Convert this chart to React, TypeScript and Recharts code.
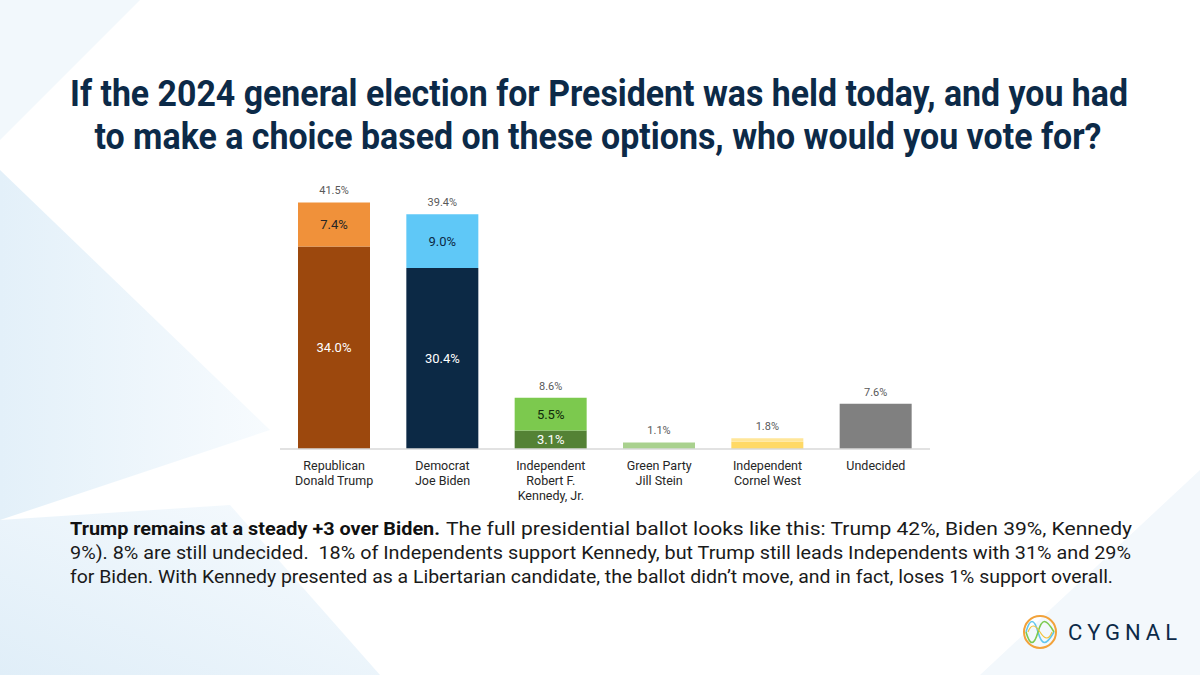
import { BarChart, Bar, XAxis, YAxis, Cell, LabelList } from "recharts"

// ballot results (percent)
const categories = [
    "Republican\nDonald Trump",
    "Democrat\nJoe Biden",
    "Independent\nRobert F.\nKennedy, Jr.",
    "Green Party\nJill Stein",
    "Independent\nCornel West",
    "Undecided",
]
const baseValues = [34.0, 30.4, 3.1, 1.1, 1.2, 7.6]
const topValues = [7.4, 9.0, 5.5, 0, 0.6, 0]
const totalLabels = ["41.5%", "39.4%", "8.6%", "1.1%", "1.8%", "7.6%"]
const baseLabels = ["34.0%", "30.4%", "3.1%", "", "", ""]
const topLabels = ["7.4%", "9.0%", "5.5%", "", "", ""]

const baseColors = ["#9c480d", "#0c2945", "#548235", "#a9d18e", "#ffd966", "#808080"]
const topColors = ["#f0913a", "#5fc8f7", "#7cc94e", "#a9d18e", "#ffe699", "#808080"]
const baseTextColors = ["#ffffff", "#ffffff", "#ffffff"]
const topTextColors = ["#262626", "#0c2945", "#0f2a0a"]

const chartData = categories.map((name, i) => ({
    name,
    base: baseValues[i],
    top: topValues[i],
}))

const NAVY = "#0c2a48"
const FONT = "Roboto, 'Noto Sans', sans-serif"
const NARROW = "'Liberation Sans Narrow', Roboto, sans-serif"

const CategoryTick = (props: any) => {
    const {x, y, payload} = props
    const lines = String(payload.value).split("\n")
    return (
        <text x={x} y={y} textAnchor="middle" fontSize={12.5} fill="#262626" fontFamily={FONT}>
            {lines.map((line, i) => (
                <tspan key={i} x={x} dy={i === 0 ? 13 : 15}>{line}</tspan>
            ))}
        </text>
    )
}

const innerLabel = (labels: string[], colors: string[]) => (props: any) => {
    const {x, y, width, height, index} = props
    const text = labels[index]
    if (!text) return null
    return (
        <text x={x + width / 2} y={y + height / 2} dy={4.5} textAnchor="middle"
              fontSize={13} fill={colors[index]} fontFamily={FONT}>
            {text}
        </text>
    )
}

// total sits above the whole stack: lift by the top segment, using the base bar's own px-per-unit
const TotalLabel = (props: any) => {
    const {x, y, width, height, index} = props
    const perUnit = height / baseValues[index]
    const stackTop = y - topValues[index] * perUnit
    return (
        <text x={x + width / 2} y={stackTop - 8} textAnchor="middle" fontSize={11} fill="#595959" fontFamily={FONT}>
            {totalLabels[index]}
        </text>
    )
}

const Logo = () => (
    <g>
        <circle cx={1040} cy={632} r={16} fill="none" stroke="#f2a23a" strokeWidth={2} />
        <path d="M1026 632 C1030 618, 1034 618, 1038 632 S1046 646, 1054 632" fill="none" stroke="#62c6ee" strokeWidth={1.6} />
        <path d="M1026 632 C1030 646, 1034 646, 1038 632 S1046 618, 1054 632" fill="none" stroke="#7cc94e" strokeWidth={1.6} />
        <path d="M1028 632 C1031 624, 1035 624, 1040 632 S1049 640, 1052 632" fill="none" stroke="#f2c23a" strokeWidth={1.2} />
        <text x={1068} y={640} fontSize={22} fill={NAVY} fontFamily={FONT} textLength={109} lengthAdjust="spacing">CYGNAL</text>
    </g>
)

const App = () => {
    return (
        <div style={{position: "absolute", left: 0, top: 0, width: 1200, height: 675, background: "#ffffff", overflow: "hidden"}}>
            <svg width={1200} height={675} style={{position: "absolute", left: 0, top: 0}}>
                <defs>
                    <linearGradient id="bgLeft" x1="0" y1="0" x2="1" y2="0">
                        <stop offset="0%" stopColor="#e3f0f9" />
                        <stop offset="100%" stopColor="#f7fbfe" />
                    </linearGradient>
                    <linearGradient id="bgBottom" x1="0" y1="1" x2="1" y2="0">
                        <stop offset="0%" stopColor="#e0eef8" />
                        <stop offset="100%" stopColor="#f7fbfe" />
                    </linearGradient>
                </defs>
                <polygon points="0,0 140,0 0,140" fill="#f2f8fc" />
                <polygon points="0,170 270,430 0,520" fill="url(#bgLeft)" />
                <polygon points="0,520 230,505 380,675 0,675" fill="url(#bgBottom)" />
                <polygon points="980,675 1200,470 1200,675" fill="#f3f8fc" />
            </svg>

            <div style={{position: "absolute", left: 0, top: 0}}>
                <BarChart width={1200} height={675} data={chartData}
                          margin={{top: 181, right: 270, bottom: 166, left: 280}}
                          barCategoryGap={18}>
                    <XAxis dataKey="name" height={60} interval={0} tickLine={false}
                           axisLine={{stroke: "#d9d9d9", strokeWidth: 1.5}} tick={<CategoryTick />} />
                    <YAxis hide domain={[0, 45]} />
                    <Bar dataKey="base" stackId="a" isAnimationActive={false}>
                        {chartData.map((_, i) => <Cell key={i} fill={baseColors[i]} />)}
                        <LabelList dataKey="base" content={innerLabel(baseLabels, baseTextColors)} />
                        <LabelList dataKey="base" content={<TotalLabel />} />
                    </Bar>
                    <Bar dataKey="top" stackId="a" isAnimationActive={false}>
                        {chartData.map((_, i) => <Cell key={i} fill={topColors[i]} />)}
                        <LabelList dataKey="top" content={innerLabel(topLabels, topTextColors)} />
                    </Bar>
                </BarChart>
            </div>

            <svg width={1200} height={675} style={{position: "absolute", left: 0, top: 0, pointerEvents: "none"}}>
                <text x={599} y={106} textAnchor="middle" fontSize={36} fontWeight={700} fill={NAVY} fontFamily={NARROW}
                      textLength={1058} lengthAdjust="spacingAndGlyphs">
                    If the 2024 general election for President was held today, and you had
                </text>
                <text x={598} y={149} textAnchor="middle" fontSize={36} fontWeight={700} fill={NAVY} fontFamily={NARROW}
                      textLength={1007} lengthAdjust="spacingAndGlyphs">
                    to make a choice based on these options, who would you vote for?
                </text>

                <text x={70} y={535} fontSize={19} fontWeight={700} fill="#111111" fontFamily={FONT}
                      textLength={370} lengthAdjust="spacingAndGlyphs">
                    Trump remains at a steady +3 over Biden.
                </text>
                <text x={446} y={535} fontSize={19} fill="#1a1a1a" fontFamily={FONT}
                      textLength={686} lengthAdjust="spacingAndGlyphs">
                    The full presidential ballot looks like this: Trump 42%, Biden 39%, Kennedy
                </text>
                <text x={70} y={559} fontSize={19} fill="#1a1a1a" fontFamily={FONT}
                      textLength={1061} lengthAdjust="spacingAndGlyphs" xmlSpace="preserve">
                    9%). 8% are still undecided.  18% of Independents support Kennedy, but Trump still leads Independents with 31% and 29%
                </text>
                <text x={70} y={583} fontSize={19} fill="#1a1a1a" fontFamily={FONT}
                      textLength={1043} lengthAdjust="spacingAndGlyphs">
                    for Biden. With Kennedy presented as a Libertarian candidate, the ballot didn’t move, and in fact, loses 1% support overall.
                </text>

                <Logo />
            </svg>
        </div>
    )
}

export default App
